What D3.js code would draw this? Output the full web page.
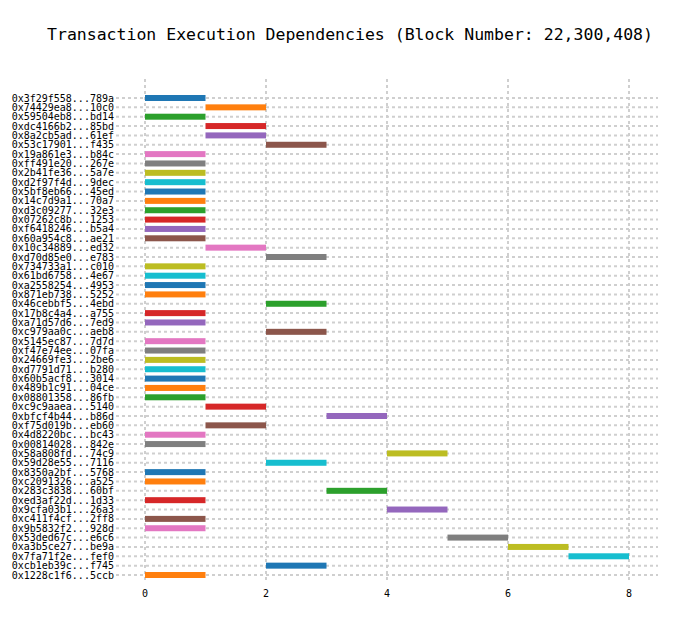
<!DOCTYPE html>
<html>
<head>
<meta charset="utf-8">
<script src="https://cdn.jsdelivr.net/npm/d3@7"></script>
<style>
  body { margin: 0; background: #fff; }
  svg text { font-family: "DejaVu Sans Mono", monospace; fill: #000; }
</style>
</head>
<body>
<div id="chart"></div>
<script>
const txLabels = [
  '0x3f29f558...789a', '0x74429ea8...10c0', '0x59504eb8...bd14', '0xdc4166b2...85bd',
  '0x8a2cb5ad...61ef', '0x53c17901...f435', '0x19a861e3...b84c', '0xff491e20...267e',
  '0x2b41fe36...5a7e', '0xd2f97f4d...9dec', '0x5bf8eb66...45ed', '0x14c7d9a1...70a7',
  '0xd3c09277...32e3', '0x07262c8b...1253', '0xf6418246...b5a4', '0x60a954c8...ae21',
  '0x10c34889...ed32', '0xd70d85e0...e783', '0x734733a1...c010', '0x61bd6758...4e67',
  '0xa2558254...4953', '0x871eb738...5252', '0x46cebbf5...4ebd', '0x17b8c4a4...a755',
  '0xa71d57d6...7ed9', '0xc979aa0c...aeb8', '0x5145ec87...7d7d', '0xf47e74ee...07fa',
  '0x24669fe3...2be6', '0xd7791d71...b280', '0x60b5acf8...3014', '0x489b1c91...04ce',
  '0x08801358...86fb', '0xc9c9aaea...5140', '0xbfcf4b44...b86d', '0xf75d019b...eb60',
  '0x4d8220bc...bc43', '0x00814028...842e', '0x58a808fd...74c9', '0x59d28e55...7116',
  '0x8350a2bf...5768', '0xc2091326...a525', '0x283c3838...60bf', '0xed3af22d...1d33',
  '0x9cfa03b1...26a3', '0xc411f4cf...2ff8', '0x9b5832f2...928d', '0x53ded67c...e6c6',
  '0xa3b5ce27...be9a', '0x7fa71f2e...fef0', '0xcb1eb39c...f745', '0x1228c1f6...5ccb'
];

// execution start step for each tx (each one lasts one step)
const startStep = [
  0, 1, 0, 1, 1, 2, 0, 0, 0, 0,
  0, 0, 0, 0, 0, 0, 1, 2, 0, 0,
  0, 0, 2, 0, 0, 2, 0, 0, 0, 0,
  0, 0, 0, 1, 3, 1, 0, 0, 4, 2,
  0, 0, 3, 0, 4, 0, 0, 5, 6, 7,
  2, 0
];
const endStep = startStep.map(s => s + 1);

const xTicks = [0, 2, 4, 6, 8];

const width = 700, height = 624;
const svg = d3.select('#chart').append('svg')
  .attr('width', width).attr('height', height);

const x = d3.scaleLinear().domain([0, 8]).range([145, 629]);
const y = d3.scalePoint().domain(d3.range(txLabels.length)).range([98, 575]);
const color = d3.scaleOrdinal(d3.schemeCategory10);

const gridColor = '#cfcfcf';

// horizontal grid
svg.append('g').selectAll('line')
  .data(txLabels)
  .join('line')
  .attr('x1', 116).attr('x2', 658)
  .attr('y1', (d, i) => y(i)).attr('y2', (d, i) => y(i))
  .attr('stroke', gridColor).attr('stroke-width', 2)
  .attr('stroke-dasharray', '3,3');

// vertical grid
svg.append('g').selectAll('line')
  .data(xTicks)
  .join('line')
  .attr('x1', d => x(d)).attr('x2', d => x(d))
  .attr('y1', 79).attr('y2', 582)
  .attr('stroke', gridColor).attr('stroke-width', 2)
  .attr('stroke-dasharray', '3,3');

// bars
svg.append('g').selectAll('rect')
  .data(txLabels)
  .join('rect')
  .attr('x', (d, i) => x(startStep[i]))
  .attr('width', (d, i) => x(endStep[i]) - x(startStep[i]))
  .attr('y', (d, i) => y(i) - 3)
  .attr('height', 6)
  .attr('fill', (d, i) => color(i % 10));

// y labels
svg.append('g').selectAll('text')
  .data(txLabels)
  .join('text')
  .attr('x', 114)
  .attr('y', (d, i) => y(i))
  .attr('dy', '0.35em')
  .attr('text-anchor', 'end')
  .attr('font-size', 10)
  .text(d => d);

// x tick labels
svg.append('g').selectAll('text')
  .data(xTicks)
  .join('text')
  .attr('x', d => x(d))
  .attr('y', 597)
  .attr('text-anchor', 'middle')
  .attr('font-size', 10)
  .text(d => d);

svg.append('text')
  .attr('x', 350)
  .attr('y', 40)
  .attr('text-anchor', 'middle')
  .attr('font-size', 16.5)
  .text('Transaction Execution Dependencies (Block Number: 22,300,408)');
</script>
</body>
</html>
